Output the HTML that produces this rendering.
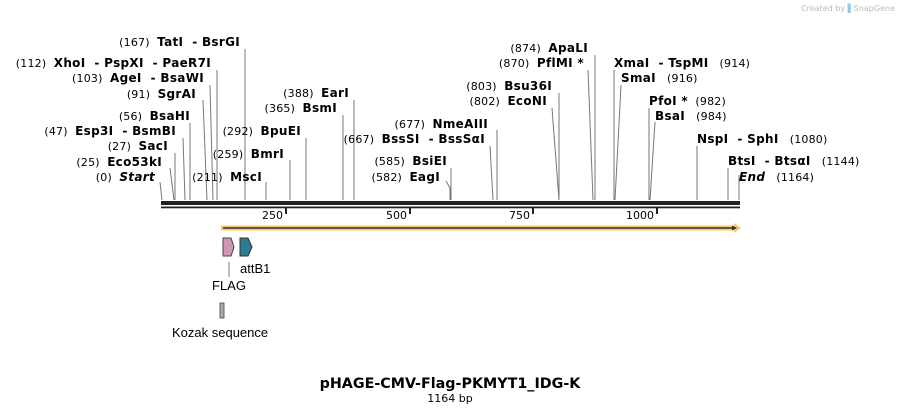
<!DOCTYPE html>
<html><head><meta charset="utf-8"><style>
html,body{margin:0;padding:0;background:#fff;width:901px;height:414px;overflow:hidden}
svg{display:block}
text{font-family:"DejaVu Sans","Liberation Sans",sans-serif;font-size:11px;fill:#000;white-space:pre}
.b{font-weight:bold;font-size:12px;letter-spacing:0.3px}
.n{font-weight:normal;font-size:11px;letter-spacing:0.2px}
.i{font-style:italic;font-weight:bold;font-size:12px;letter-spacing:0.3px}
.f{font-family:'Liberation Sans','DejaVu Sans',sans-serif;font-size:13px}
</style></head><body>
<svg width="901" height="414" viewBox="0 0 901 414" xml:space="preserve">
<text x="895" y="11" text-anchor="end" style="font-size:8px;fill:#bbb">Created by <tspan style="fill:#8fc8e8">▌</tspan>SnapGene</text>

<g stroke="#777" stroke-width="1">
<line x1="160" y1="182" x2="162" y2="200"/>
<line x1="170" y1="168" x2="174" y2="200"/>
<line x1="175" y1="153" x2="175" y2="200"/>
<line x1="183" y1="138" x2="185" y2="200"/>
<line x1="190" y1="123" x2="190" y2="200"/>
<line x1="203" y1="100" x2="207" y2="200"/>
<line x1="210" y1="85" x2="213" y2="200"/>
<line x1="217" y1="70" x2="217" y2="200"/>
<line x1="245" y1="49" x2="245" y2="200"/>
<line x1="266" y1="182" x2="266" y2="200"/>
<line x1="290" y1="160" x2="290" y2="200"/>
<line x1="306" y1="138" x2="306" y2="200"/>
<line x1="343" y1="115" x2="343" y2="200"/>
<line x1="354" y1="100" x2="354" y2="200"/>
<line x1="490" y1="146" x2="493" y2="200"/>
<line x1="497" y1="130" x2="497" y2="200"/>
<line x1="451" y1="168" x2="451" y2="200"/>
<line x1="446" y1="181" x2="450" y2="188"/><line x1="450" y1="188" x2="450" y2="200"/>
<line x1="552" y1="108" x2="559" y2="200"/>
<line x1="559" y1="93" x2="559" y2="200"/>
<line x1="588" y1="70" x2="593" y2="200"/>
<line x1="595" y1="55" x2="595" y2="200"/>
<line x1="614" y1="70" x2="614" y2="200"/>
<line x1="621" y1="85" x2="615" y2="200"/>
<line x1="649" y1="108" x2="649" y2="200"/>
<line x1="655" y1="122" x2="650" y2="200"/>
<line x1="697" y1="146" x2="697" y2="200"/>
<line x1="728" y1="168" x2="728" y2="200"/>
<line x1="739" y1="175" x2="739" y2="200"/>
</g>

<g text-anchor="end">
<text x="155" y="181"><tspan class="n">(0)  </tspan><tspan class="i">Start</tspan></text>
<text x="162" y="166"><tspan class="n">(25)  </tspan><tspan class="b">Eco53kI</tspan></text>
<text x="168" y="150"><tspan class="n">(27)  </tspan><tspan class="b">SacI</tspan></text>
<text x="176" y="135"><tspan class="n">(47)  </tspan><tspan class="b">Esp3I  - BsmBI</tspan></text>
<text x="190" y="120"><tspan class="n">(56)  </tspan><tspan class="b">BsaHI</tspan></text>
<text x="196" y="98"><tspan class="n">(91)  </tspan><tspan class="b">SgrAI</tspan></text>
<text x="204" y="82"><tspan class="n">(103)  </tspan><tspan class="b">AgeI  - BsaWI</tspan></text>
<text x="211" y="67"><tspan class="n">(112)  </tspan><tspan class="b">XhoI  - PspXI  - PaeR7I</tspan></text>
<text x="240" y="46"><tspan class="n">(167)  </tspan><tspan class="b">TatI  - BsrGI</tspan></text>
<text x="262" y="181"><tspan class="n">(211)  </tspan><tspan class="b">MscI</tspan></text>
<text x="284" y="158"><tspan class="n">(259)  </tspan><tspan class="b">BmrI</tspan></text>
<text x="301" y="135"><tspan class="n">(292)  </tspan><tspan class="b">BpuEI</tspan></text>
<text x="337" y="112"><tspan class="n">(365)  </tspan><tspan class="b">BsmI</tspan></text>
<text x="349" y="97"><tspan class="n">(388)  </tspan><tspan class="b">EarI</tspan></text>
<text x="485" y="143"><tspan class="n">(667)  </tspan><tspan class="b">BssSI  - BssSαI</tspan></text>
<text x="488" y="128"><tspan class="n">(677)  </tspan><tspan class="b">NmeAIII</tspan></text>
<text x="447" y="165"><tspan class="n">(585)  </tspan><tspan class="b">BsiEI</tspan></text>
<text x="440" y="181"><tspan class="n">(582)  </tspan><tspan class="b">EagI</tspan></text>
<text x="547" y="105"><tspan class="n">(802)  </tspan><tspan class="b">EcoNI</tspan></text>
<text x="552" y="90"><tspan class="n">(803)  </tspan><tspan class="b">Bsu36I</tspan></text>
<text x="584" y="67"><tspan class="n">(870)  </tspan><tspan class="b">PflMI *</tspan></text>
<text x="588" y="52"><tspan class="n">(874)  </tspan><tspan class="b">ApaLI</tspan></text>
</g>
<g>
<text x="614" y="67"><tspan class="b">XmaI  - TspMI</tspan><tspan class="n">   (914)</tspan></text>
<text x="621" y="82"><tspan class="b">SmaI</tspan><tspan class="n">   (916)</tspan></text>
<text x="649" y="105"><tspan class="b">PfoI *</tspan><tspan class="n">  (982)</tspan></text>
<text x="655" y="120"><tspan class="b">BsaI</tspan><tspan class="n">   (984)</tspan></text>
<text x="697" y="143"><tspan class="b">NspI  - SphI</tspan><tspan class="n">   (1080)</tspan></text>
<text x="728" y="165"><tspan class="b">BtsI  - BtsαI</tspan><tspan class="n">   (1144)</tspan></text>
<text x="739" y="181"><tspan class="i">End</tspan><tspan class="n">   (1164)</tspan></text>
</g>

<rect x="161" y="201" width="579" height="4" fill="#222"/>
<rect x="161" y="206.5" width="579" height="1.8" fill="#222"/>
<g fill="#222">
<rect x="285" y="208" width="2" height="6"/>
<rect x="409" y="208" width="2" height="6"/>
<rect x="532" y="208" width="2" height="6"/>
<rect x="656" y="208" width="2" height="6"/>
</g>
<g text-anchor="end" style="font-size:11px">
<text x="283" y="219">250</text>
<text x="407" y="219">500</text>
<text x="530" y="219">750</text>
<text x="654" y="219">1000</text>
</g>

<polygon points="221,225.5 734,225.5 734,223 741,228 734,233 734,230.5 221,230.5" fill="#f8c66e"/>
<line x1="223" y1="228" x2="735" y2="228" stroke="#333" stroke-width="1.6"/>
<polygon points="732,225.5 737,228 732,230.5" fill="#333"/>

<polygon points="223,238 231,238 234,247 231,256 223,256" fill="#cf97b4" stroke="#444" stroke-width="1"/>
<polygon points="240,238 248,238 252,247 248,256 240,256" fill="#2a7b93" stroke="#333" stroke-width="1"/>
<line x1="229" y1="262" x2="229" y2="277" stroke="#777"/>
<text x="240" y="273" class="f">attB1</text>
<text x="212" y="290" class="f">FLAG</text>
<rect x="220" y="303" width="4" height="15" fill="#a7abb3" stroke="#444" stroke-width="0.8"/>
<text x="172" y="337" class="f">Kozak sequence</text>

<text x="450" y="388" text-anchor="middle" style="font-size:14.3px;font-weight:bold">pHAGE-CMV-Flag-PKMYT1_IDG-K</text>
<text x="450" y="402" text-anchor="middle" style="font-size:11px">1164 bp</text>
</svg>
</body></html>
